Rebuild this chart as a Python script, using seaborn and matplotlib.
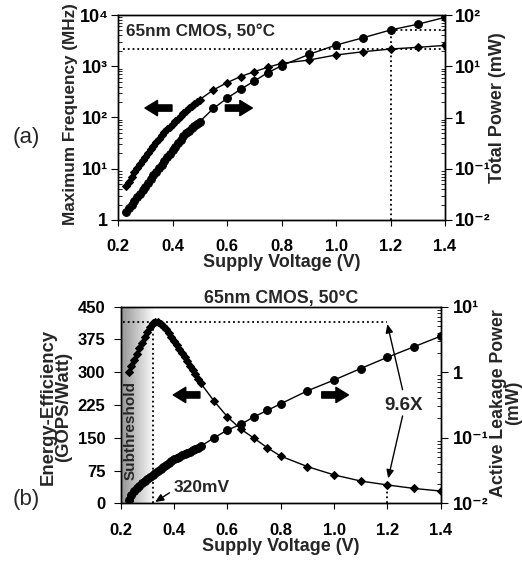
import numpy as np
import matplotlib
matplotlib.use('Agg')
import matplotlib.pyplot as plt
import seaborn as sns
import pandas as pd
from matplotlib.ticker import FuncFormatter, LogLocator, NullFormatter
from matplotlib.colors import LinearSegmentedColormap

# ---------------- data ----------------
voltage = [0.23, 0.24, 0.25, 0.26, 0.27, 0.28, 0.29, 0.30, 0.31, 0.32,
           0.33, 0.34, 0.35, 0.36, 0.37, 0.38, 0.39, 0.40, 0.41, 0.42,
           0.43, 0.44, 0.45, 0.46, 0.47, 0.48, 0.49, 0.50,
           0.55, 0.60, 0.65, 0.70, 0.75, 0.80, 0.90, 1.00, 1.10, 1.20, 1.30, 1.40]

freq_mhz = [4.57, 5.62, 6.92, 8.51, 10.2, 12.3, 14.5, 17.0, 20.4, 24.0,
            28.2, 33.1, 38.9, 44.7, 51.3, 58.9, 66.1, 74.1, 85.1, 95.5,
            107, 120, 135, 151, 166, 186, 204, 224,
            345, 478, 630, 783, 955, 1140, 1320, 1660, 1920, 2170, 2340, 2550]

power_mw = [0.0145, 0.0170, 0.0200, 0.0234, 0.0275, 0.0324, 0.0380, 0.0447, 0.0525, 0.0617,
            0.0741, 0.0871, 0.102, 0.120, 0.141, 0.166, 0.195, 0.229, 0.269, 0.316,
            0.363, 0.427, 0.490, 0.550, 0.617, 0.692, 0.759, 0.832,
            1.5, 2.37, 3.55, 5.15, 7.5, 10.2, 17, 25.9, 36, 51, 66, 90]

efficiency = [300, 314, 329, 342, 355, 368, 381, 393, 404, 412,
              415, 414, 411, 405, 398, 390, 381, 371, 362, 353,
              344, 335, 325, 315, 305, 295, 285, 275,
              234, 198, 170, 149, 127, 108, 84, 65, 51, 42, 34, 28]

leakage_mw = [0.0112, 0.0135, 0.0155, 0.0174, 0.0186, 0.0204, 0.0219, 0.0234, 0.0251, 0.0269,
              0.0288, 0.0309, 0.0331, 0.0355, 0.0380, 0.0407, 0.0437, 0.0468, 0.0490, 0.0513,
              0.0537, 0.0562, 0.0589, 0.0617, 0.0646, 0.0676, 0.0708, 0.0741,
              0.100, 0.131, 0.160, 0.209, 0.262, 0.33, 0.52, 0.76, 1.14, 1.69, 2.45, 3.55]

x_ticks = [0.2, 0.4, 0.6, 0.8, 1.0, 1.2, 1.4]
eff_ticks = [0, 75, 150, 225, 300, 375, 450]
peak_voltage = 0.32
nominal_voltage = 1.2

df = pd.DataFrame({'v': voltage, 'freq': freq_mhz, 'power': power_mw,
                   'eff': efficiency, 'leak': leakage_mw})

# ---------------- style ----------------
sns.set_style('ticks')
plt.rcParams['font.family'] = ['Liberation Sans', 'DejaVu Sans']
plt.rcParams['font.weight'] = 'bold'
plt.rcParams['axes.labelweight'] = 'bold'
plt.rcParams['axes.edgecolor'] = 'black'
plt.rcParams['axes.linewidth'] = 1.0
plt.rcParams['xtick.color'] = 'black'
plt.rcParams['ytick.color'] = 'black'

TFS = 12      # tick labels
LFS = 13      # axis labels

fig = plt.figure(figsize=(5.22, 5.65), dpi=100)
W, H = 522.0, 565.0

SUP = str.maketrans('-0123456789', '⁻⁰¹²³⁴⁵⁶⁷⁸⁹')


def box(l, t, r, b):
    return [l / W, 1 - b / H, (r - l) / W, (b - t) / H]


def logfmt(val, pos):
    e = int(round(np.log10(val)))
    if e == 0:
        return '1'
    return '10' + str(e).translate(SUP)


def style_log(yaxis):
    yaxis.set_major_locator(LogLocator(base=10, numticks=10))
    yaxis.set_minor_locator(LogLocator(base=10, subs=np.arange(2, 10), numticks=100))
    yaxis.set_major_formatter(FuncFormatter(logfmt))
    yaxis.set_minor_formatter(NullFormatter())


line_kw = dict(color='black', linewidth=1.0, estimator=None, sort=False, legend=False)

# ---------------- panel (a) ----------------
ax1 = fig.add_axes(box(118, 15, 445, 220))
ax1r = ax1.twinx()
sns.lineplot(data=df, x='v', y='freq', ax=ax1, marker='D', markersize=4.4,
             markeredgecolor='black', markerfacecolor='black', **line_kw)
sns.lineplot(data=df, x='v', y='power', ax=ax1r, marker='o', markersize=5.6,
             markeredgecolor='black', markerfacecolor='black', **line_kw)
ax1.set_yscale('log')
ax1r.set_yscale('log')
ax1.set_xlim(0.2, 1.4)
ax1.set_ylim(1, 1e4)
ax1r.set_ylim(1e-2, 1e2)
style_log(ax1.yaxis)
style_log(ax1r.yaxis)
ax1.set_xticks(x_ticks)
ax1.xaxis.set_major_formatter(FuncFormatter(lambda v, p: f'{v:.1f}'))
ax1.tick_params(axis='x', which='major', direction='out', length=4, pad=10, labelsize=TFS)
ax1.tick_params(axis='y', which='major', direction='out', length=5, pad=2, labelsize=13)
ax1.tick_params(axis='y', which='minor', direction='in', length=3)
ax1r.tick_params(axis='y', which='major', direction='out', length=5, pad=2, labelsize=13)
ax1r.tick_params(axis='y', which='minor', direction='in', length=3)
ax1.set_xlabel('Supply Voltage (V)', fontsize=LFS, labelpad=0)
ax1.set_ylabel('Maximum Frequency (MHz)', fontsize=12.3)
ax1r.set_ylabel('Total Power (mW)', fontsize=LFS, rotation=90)
ax1.yaxis.set_label_coords(-0.122, 0.517)
ax1r.yaxis.set_label_coords(1.135, 0.55)

i_nom = voltage.index(nominal_voltage)
ax1.hlines(freq_mhz[i_nom], 0.218, 1.4, colors='black', linestyles=':', linewidth=1.3)
ax1r.hlines(power_mw[i_nom], nominal_voltage, 1.4, colors='black', linestyles=':', linewidth=1.3)
ax1r.vlines(nominal_voltage, 1e-2, power_mw[i_nom], colors='black', linestyles=':', linewidth=1.3)

ax1.text(0.025, 0.955, '65nm CMOS, 50°C', transform=ax1.transAxes, fontsize=12.3,
         fontweight='bold', ha='left', va='top')

fat = dict(arrowstyle='simple,head_length=0.9,head_width=1.1,tail_width=0.45',
           color='black', mutation_scale=10, shrinkA=0, shrinkB=0)
ax1.annotate('', xy=(0.299, 153), xytext=(0.398, 153), arrowprops=fat)
ax1.annotate('', xy=(0.693, 153), xytext=(0.594, 153), arrowprops=fat)

fig.text(26.7 / W, 1 - 138 / H, '(a)', fontsize=16, fontweight='normal', ha='center', va='center')

# ---------------- panel (b) ----------------
ax2 = fig.add_axes(box(120.7, 306.7, 440.7, 503.3))
ax2r = ax2.twinx()

cmap = LinearSegmentedColormap.from_list('shade', ['#939393', '#ffffff'])
grad = np.linspace(0, 1, 256).reshape(1, -1)
ax2.imshow(grad, extent=[0.2, 0.325, 0, 450], aspect='auto', cmap=cmap, zorder=0)

sns.lineplot(data=df, x='v', y='eff', ax=ax2, marker='D', markersize=4.4,
             markeredgecolor='black', markerfacecolor='black', **line_kw)
sns.lineplot(data=df, x='v', y='leak', ax=ax2r, marker='o', markersize=5.6,
             markeredgecolor='black', markerfacecolor='black', **line_kw)
ax2.set_xlim(0.2, 1.4)
ax2.set_ylim(0, 450)
ax2.set_yticks(eff_ticks)
ax2r.set_yscale('log')
ax2r.set_ylim(1e-2, 1e1)
style_log(ax2r.yaxis)
ax2.set_xticks(x_ticks)
ax2.xaxis.set_major_formatter(FuncFormatter(lambda v, p: f'{v:.1f}'))
ax2.tick_params(axis='x', which='major', direction='out', length=4, pad=10, labelsize=TFS)
ax2.tick_params(axis='y', which='major', direction='out', length=5, pad=6, labelsize=TFS)
ax2r.tick_params(axis='y', which='major', direction='out', length=5, pad=4, labelsize=13)
ax2r.tick_params(axis='y', which='minor', direction='in', length=3)
ax2.set_xlabel('Supply Voltage (V)', fontsize=LFS, labelpad=0)
ax2.set_ylabel('Energy-Efficiency\n(GOPS/Watt)', fontsize=13.3, linespacing=0.9)
ax2r.set_ylabel('Active Leakage Power\n(mW)', fontsize=12.8, rotation=90, linespacing=0.85)
ax2.yaxis.set_label_coords(-0.152, 0.49)
ax2r.yaxis.set_label_coords(1.154, 0.51)
ax2.set_title('65nm CMOS, 50°C', fontsize=12.8, fontweight='bold', pad=3)

ax2.hlines(max(efficiency), 0.21, nominal_voltage, colors='black', linestyles=':', linewidth=1.3)
ax2.vlines(peak_voltage, 0, max(efficiency), colors='black', linestyles=':', linewidth=1.3)
ax2.vlines(nominal_voltage, 0, efficiency[i_nom], colors='black', linestyles=':', linewidth=1.3)

ax2.text(0.2375, 167, 'Subthreshold', rotation=90, fontsize=11, fontweight='bold',
         ha='center', va='center')
ax2.annotate('', xy=(0.397, 248), xytext=(0.497, 248), arrowprops=fat)
ax2.annotate('', xy=(1.054, 248), xytext=(0.954, 248), arrowprops=fat)

ax2.text(1.262, 225, '9.6X', fontsize=13.5, fontweight='bold', ha='center', va='center')
thin = dict(arrowstyle='-|>,head_length=0.5,head_width=0.22', color='black', lw=1.0,
            mutation_scale=10, shrinkA=0, shrinkB=0)
ax2.annotate('', xy=(1.2, 410), xytext=(1.257, 260), arrowprops=thin)
ax2.annotate('', xy=(1.203, 57), xytext=(1.257, 200), arrowprops=thin)

ax2.text(0.504, 36, '320mV', fontsize=12.5, fontweight='bold', ha='center', va='center')
ax2.annotate('', xy=(0.329, 3), xytext=(0.383, 24), arrowprops=thin)

fig.text(26.7 / W, 1 - 500 / H, '(b)', fontsize=16, fontweight='normal', ha='center', va='center')

fig.savefig('out.png', dpi=100)
